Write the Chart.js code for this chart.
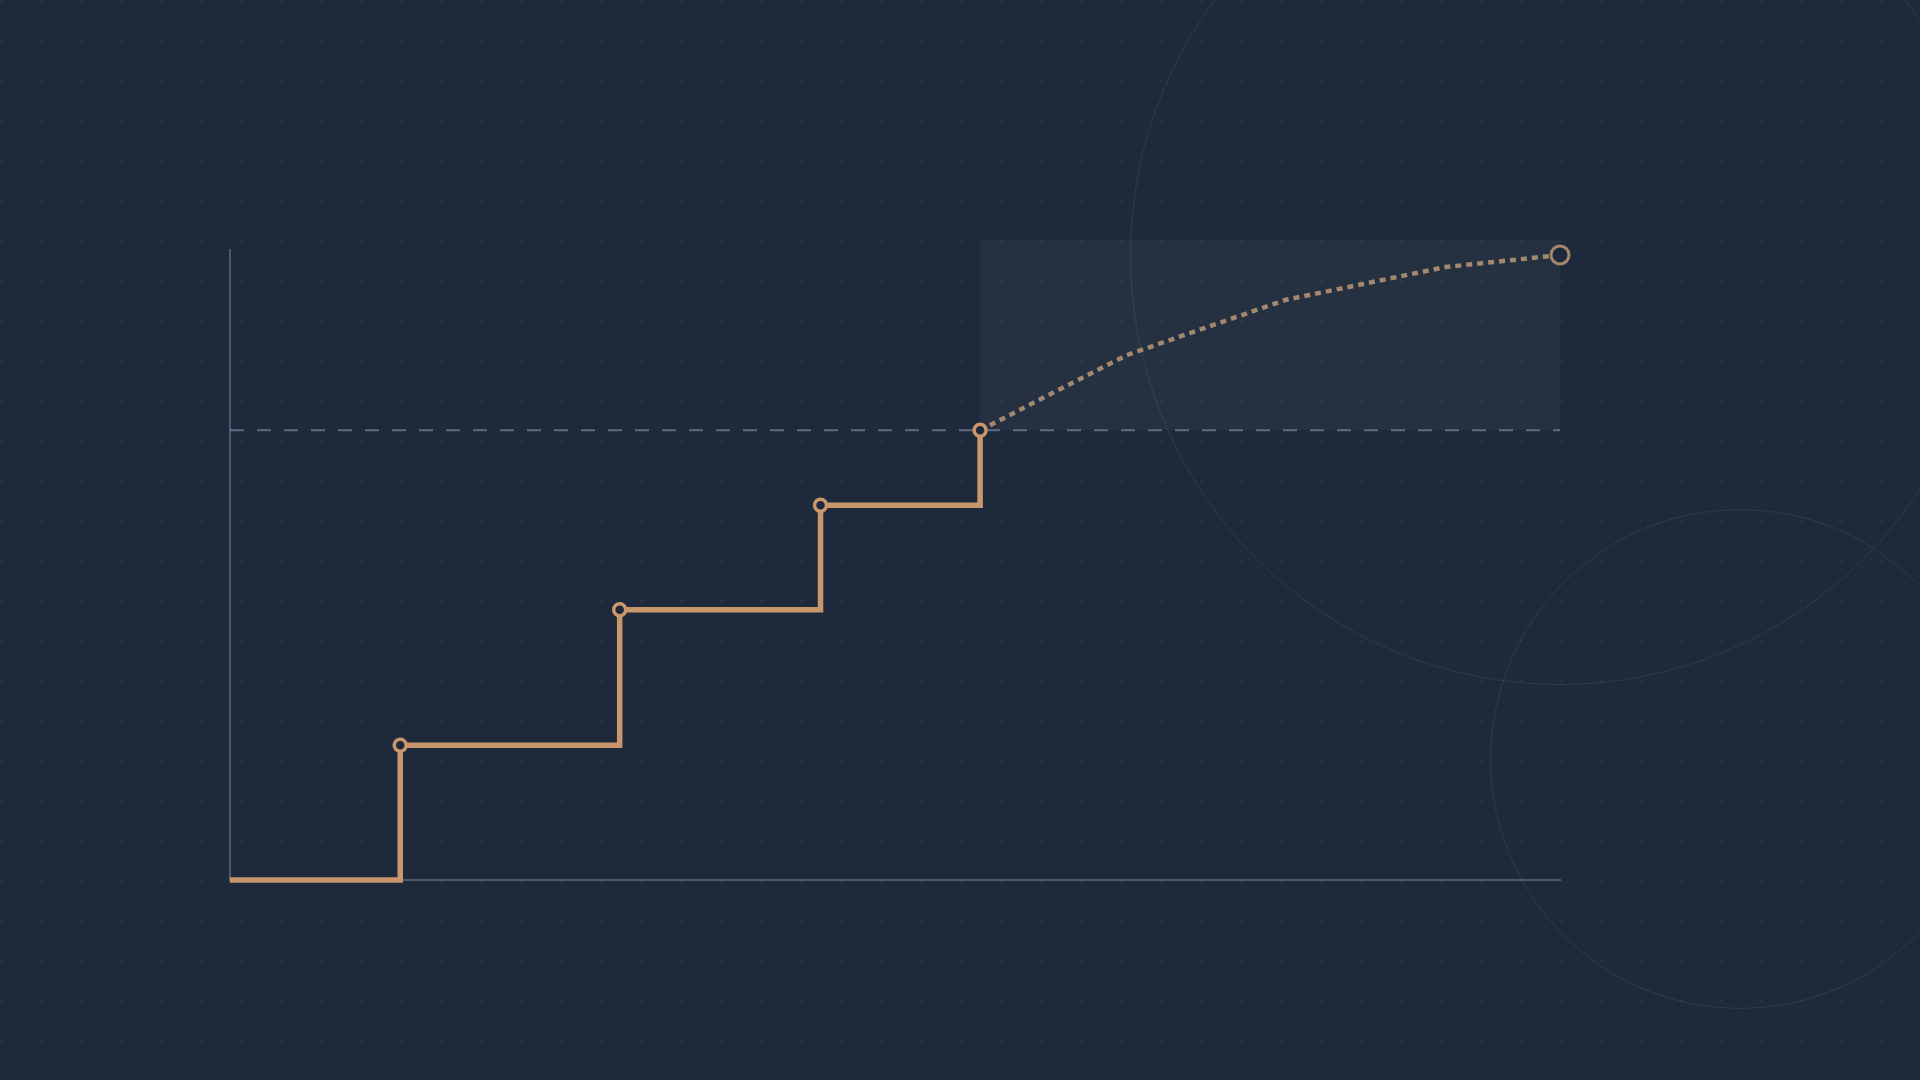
<!DOCTYPE html>
<html>
<head>
<meta charset="utf-8">
<title>Step growth with projection</title>
<script src="https://cdn.jsdelivr.net/npm/chart.js@4/dist/chart.umd.min.js"></script>
<style>
  html, body { margin: 0; padding: 0; }
  body {
    width: 1920px; height: 1080px; overflow: hidden; position: relative;
    background-color: #1e293b;
    background-image: radial-gradient(circle at 1px 1px, rgba(148,163,184,0.09) 1.3px, transparent 1.7px);
    background-size: 40px 40px;
  }
  .ring { position: absolute; border-radius: 50%; border: 1.5px solid rgba(148,163,184,0.14); box-sizing: border-box; }
  .ring--big { left: 1130px; top: -175px; width: 860px; height: 860px; }
  .ring--small { left: 1490px; top: 509px; width: 500px; height: 500px; }
  #wrap { position: absolute; left: 0; top: 0; width: 1920px; height: 1080px; }
</style>
</head>
<body>
<div class="ring ring--big"></div>
<div class="ring ring--small"></div>
<div id="wrap"><canvas id="stepChart"></canvas></div>
<script>
// ----- data -----
const stepX = [0, 12.8, 29.3, 44.4, 56.4];
const stepY = [0, 21.4, 42.9, 59.5, 71.4];
const projX = [56.4, 67.4, 79.4, 91.4, 100];
const projY = [71.4, 83.3, 92.1, 97.3, 99.2];
const targetY = 71.4;
const axisX = [0, 100];
const axisY = [0, 100];
const zoneX = [56.4, 100];
const zoneY = [71.4, 101.6];

const toPts = (xs, ys) => xs.map((x, i) => ({ x, y: ys[i] }));

// shaded projection zone, drawn behind the lines
const zonePlugin = {
  id: 'zone',
  beforeDatasetsDraw(chart) {
    const { ctx, scales: { x, y } } = chart;
    const x0 = x.getPixelForValue(zoneX[0]), x1 = x.getPixelForValue(zoneX[1]);
    const y0 = y.getPixelForValue(zoneY[1]), y1 = y.getPixelForValue(zoneY[0]);
    ctx.save();
    ctx.fillStyle = 'rgba(255,255,255,0.035)';
    ctx.fillRect(x0, y0, x1 - x0, y1 - y0);
    ctx.restore();
  }
};

window.addEventListener('DOMContentLoaded', () => {
  const ctx = document.getElementById('stepChart');
  new Chart(ctx, {
    type: 'line',
    data: {
      datasets: [
        {
          // target reference line
          data: toPts(axisX, [targetY, targetY]),
          borderColor: 'rgba(148,163,184,0.55)',
          borderWidth: 2,
          borderDash: [14, 13],
          pointRadius: 0,
          clip: false,
          order: 3
        },
        {
          // projection
          data: toPts(projX, projY),
          borderColor: '#a3876f',
          borderWidth: 4.5,
          borderDash: [6, 5],
          tension: 0,
          pointRadius: projX.map((_, i) => i === projX.length - 1 ? 9 : 0),
          pointBorderWidth: 3,
          pointBorderColor: '#a3876f',
          pointBackgroundColor: '#1e293b',
          clip: false,
          order: 2
        },
        {
          // actual steps
          data: toPts(stepX, stepY),
          stepped: true,
          borderColor: '#c9976b',
          borderWidth: 5.5,
          borderJoinStyle: 'miter',
          borderCapStyle: 'butt',
          pointRadius: stepX.map((_, i) => i === 0 ? 0 : 6),
          pointBorderWidth: 3.5,
          pointBorderColor: '#c9976b',
          pointBackgroundColor: '#1e293b',
          clip: false,
          order: 1
        }
      ]
    },
    options: {
      responsive: true,
      maintainAspectRatio: false,
      animation: false,
      layout: { padding: { left: 230, right: 360, top: 250, bottom: 200 } },
      plugins: { legend: { display: false }, tooltip: { enabled: false } },
      scales: {
        x: {
          type: 'linear', min: axisX[0], max: axisX[1],
          grid: { display: false, drawTicks: false },
          ticks: { display: false },
          border: { display: true, color: 'rgba(148,163,184,0.4)', width: 2 }
        },
        y: {
          min: axisY[0], max: axisY[1],
          grid: { display: false, drawTicks: false },
          ticks: { display: false },
          border: { display: true, color: 'rgba(148,163,184,0.4)', width: 2 }
        }
      }
    },
    plugins: [zonePlugin]
  });
});
</script>
</body>
</html>
